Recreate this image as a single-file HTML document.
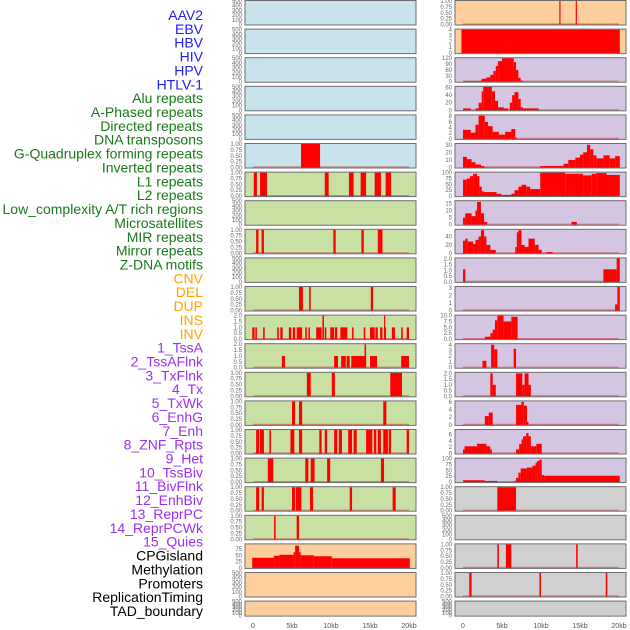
<!DOCTYPE html>
<html><head><meta charset="utf-8">
<style>
body{margin:0;background:#fff;width:630px;height:630px;overflow:hidden;font-family:"Liberation Sans",sans-serif;}
svg{display:block}
</style></head>
<body>
<svg id="chart" width="630" height="630" xmlns="http://www.w3.org/2000/svg"></svg>
<script>
const labels=["AAV2","EBV","HBV","HIV","HPV","HTLV-1","Alu repeats","A-Phased repeats","Directed repeats","DNA transposons","G-Quadruplex forming repeats","Inverted repeats","L1 repeats","L2 repeats","Low_complexity A/T rich regions","Microsatellites","MIR repeats","Mirror repeats","Z-DNA motifs","CNV","DEL","DUP","INS","INV","1_TssA","2_TssAFlnk","3_TxFlnk","4_Tx","5_TxWk","6_EnhG","7_Enh","8_ZNF_Rpts","9_Het","10_TssBiv","11_BivFlnk","12_EnhBiv","13_ReprPC","14_ReprPCWk","15_Quies","CPGisland","Methylation","Promoters","ReplicationTiming","TAD_boundary"];
const labelColors=["#2020f0","#1a7a1a","#ffa500","#9b30f0","#000"];
const labelGroups=[6,13,5,15,5];
const xTicks=[0,5,10,15,20];
const xTickLabels=["0","5kb","10kb","15kb","20kb"];
const T500=[0,100,200,300,400,500];
const T1=[0,0.25,0.5,0.75,1];
const T2=[0,0.5,1,1.5,2];
const leftBg=["b","b","b","b","b","b","g","g","g","g","g","g","g","g","g","g","g","g","g","o","o","o"];
const leftYmax=[500,500,500,500,500,1,1,500,1,500,1,2,2,1,1,1,1,1,1,93,500,500];
const leftTicks=[T500,T500,T500,T500,T500,T1,T1,T500,T1,T500,T1,T2,T2,T1,T1,T1,T1,T1,T1,[0,25,50,75],T500,T500];
const leftSegs=[[],[],[],[],[],
[[6.15,8.6,1]],
[[0.1,0.5,1],[0.9,1.8,1],[9.2,9.7,1],[12.3,12.9,1],[13.8,14.5,1],[15.6,16.4,1],[17.0,17.7,1]],
[],
[[0.4,0.7,1],[1.1,1.4,1],[10.3,10.6,1],[13.9,14.2,1],[16.0,16.6,1]],
[],
[[5.9,6.4,1],[7.2,7.4,1],[15.1,15.4,1]],
[[-0.1,0.2,1],[0.3,0.5,1],[1.3,1.5,1],[3.1,3.3,1],[3.5,3.8,1],[4.6,4.9,1],[5.1,5.4,1],[5.6,6.3,1],[6.7,6.9,1],[7.1,7.3,1],[8.1,8.8,1],[8.9,9.1,2],[9.2,9.4,1],[9.9,10.4,1],[10.5,10.8,1],[11.2,12.1,1],[12.7,12.9,1],[14.2,14.4,1],[15.0,15.6,1],[15.7,16.0,1],[16.3,16.6,1],[16.8,16.9,2],[16.9,17.0,1],[17.8,18.2,1],[19.0,19.2,1],[19.7,20.0,1]],
[[3.7,4.1,1],[10.4,10.9,1],[11.3,11.9,1],[12.0,12.4,1],[12.6,14.1,1],[14.1,14.5,1],[14.3,14.5,2],[15.0,15.9,1],[19.0,20.0,1]],
[[6.9,7.4,1],[10.1,10.5,1],[17.6,19.1,1]],
[[5.0,5.4,1],[5.9,6.3,1],[16.7,17.1,1]],
[[0.4,0.8,1],[0.9,1.4,1],[2.1,2.3,1],[4.8,5.3,1],[5.9,6.3,1],[8.5,8.8,1],[9.2,9.5,1],[10.4,10.8,1],[11.0,11.4,1],[12.2,12.7,1],[12.9,13.3,1],[14.5,15.3,1],[15.5,15.8,1],[16.0,16.4,1],[16.7,17.3,1],[17.4,17.7,1],[19.7,20.0,1]],
[[1.9,2.6,1],[6.7,7.1,1],[7.4,7.9,1],[9.5,9.9,1],[16.4,16.8,1]],
[[0.4,0.8,1],[1.1,1.4,1],[5.0,5.4,1],[5.5,6.2,1],[7.3,7.7,1],[12.4,12.7,1],[17.9,18.3,1]],
[[2.7,2.9,1],[5.6,5.9,1]],
[[-0.1,2.7,40],[2.7,3.4,48],[3.4,5.2,52],[5.2,5.4,62],[5.4,5.9,88],[5.9,6.1,62],[6.1,7.8,50],[7.8,10.1,46],[10.1,20.1,38]],
[],[]];
const rightBg=["o","o","p","p","p","p","p","p","p","p","p","p","p","p","p","p","p","y","y","y","y","y"];
const rightYmax=[1,4,120,62,8.3,31,100,16.5,56,2.05,3.1,10,4.1,2.05,6.1,7.5,100,1,500,1,1,500];
const rightTicks=[T1,[0,1,2,3,4],[0,30,60,90,120],[0,20,40,60],[0,2,4,6,8],[0,10,20,30],[0,25,50,75,100],[0,5,10,15],[0,20,40],T2,[0,1,2,3],[0,2.5,5,7.5,10],[0,1,2,3,4],T2,[0,2,4,6],[0,2,4,6],[0,25,50,75,100],T1,T500,T1,T1,T500];
const rightSegs=[
[[12.35,12.5,1],[14.45,14.6,1]],
[[-0.2,20.1,4]],
[[0,2.0,3],[2.1,2.4,5],[2.4,3.0,15],[3.0,3.5,22],[3.5,3.9,35],[3.9,4.2,55],[4.2,4.5,80],[4.5,5.0,105],[5.0,6.5,120],[6.5,6.8,100],[6.8,7.1,60],[7.1,7.4,20],[7.4,7.7,5]],
[[0,1.0,5],[1.6,2.0,5],[2.0,2.4,20],[2.4,2.6,50],[2.6,3.7,62],[3.7,4.1,50],[4.1,4.5,25],[4.5,5.2,8],[5.2,5.8,5],[6.0,6.3,20],[6.3,6.6,40],[6.6,7.1,48],[7.1,7.4,30],[7.4,7.7,8],[7.7,9.7,5]],
[[0,1.0,3.2],[1.0,1.6,2.2],[1.6,2.0,5],[2.0,2.8,8.2],[2.8,3.2,6],[3.2,3.8,4.5],[3.8,4.6,2.5],[4.6,5.4,1.5],[5.4,6.2,2.5],[6.2,6.7,3.5],[6.7,6.9,0.5]],
[[0,0.5,14],[0.5,1.1,11],[1.1,1.6,7],[1.6,2.3,4],[2.3,2.7,2],[9.9,12.9,2],[12.9,13.5,5],[13.5,14.4,10],[14.4,15.0,13],[15.0,15.4,17],[15.4,15.9,20],[15.9,16.3,30],[16.3,16.7,24],[16.7,17.1,16],[17.1,18.0,12],[18.0,18.8,16],[18.8,19.5,12],[19.5,20.1,15]],
[[0,0.5,70],[0.5,0.9,75],[0.9,1.3,85],[1.3,1.8,95],[1.8,2.1,85],[2.1,2.4,40],[2.4,2.7,20],[2.7,4.3,17],[4.3,4.9,10],[4.9,6.2,5],[6.2,6.6,10],[6.6,7.1,25],[7.1,7.5,40],[7.5,8.1,48],[8.1,8.6,40],[8.6,9.9,30],[9.9,13.1,100],[13.1,15.4,95],[15.4,16.5,88],[16.5,17.1,95],[17.1,18.4,98],[18.4,20.1,90]],
[[0,0.3,5],[0.3,1.1,8],[1.1,1.6,6],[1.6,1.8,10],[1.8,2.3,16],[2.3,2.7,8],[2.7,3.1,2],[13.9,14.6,2]],
[[0,0.3,30],[0.3,0.6,35],[0.6,1.3,28],[1.3,1.6,22],[1.6,2.0,32],[2.0,2.3,40],[2.3,2.7,55],[2.7,3.0,40],[3.0,3.5,20],[3.5,4.2,8],[6.7,6.9,15],[6.9,7.1,50],[7.1,7.5,55],[7.5,7.9,20],[7.9,8.4,15],[8.4,9.2,35],[9.2,9.7,20],[9.7,10.1,8],[10.7,11.5,3]],
[[0,0.3,1.1],[18.0,19.7,1.1],[19.7,20.1,2.05]],
[[19.5,19.8,0.8],[19.8,20.1,3.1]],
[[2.8,3.5,1],[3.5,3.8,2.5],[3.8,4.1,4],[4.1,4.4,8],[4.4,5.2,10],[5.2,6.2,7.5],[6.2,7.0,9.5]],
[[2.5,3.0,1.2],[3.6,4.0,4],[4.0,4.4,3.2],[6.5,6.8,3.3]],
[[3.5,3.8,2],[3.8,4.2,1],[6.8,7.6,2],[7.6,7.9,1],[7.9,8.4,2],[8.4,8.7,1]],
[[2.8,3.3,2.3],[3.3,3.8,3.2],[6.8,7.5,5.2],[7.5,7.8,6],[7.8,8.2,5],[8.2,8.4,0.8]],
[[0,0.2,1.3],[0.2,1.8,2.3],[1.8,3.0,3.1],[3.0,3.5,2.3],[3.5,3.7,1.3],[6.8,7.2,1.3],[7.2,7.5,3],[7.5,7.7,4.5],[7.7,8.1,5.5],[8.1,8.4,6.5],[8.4,8.7,5.5],[8.7,9.4,2.3],[9.4,10.1,3.1]],
[[0,2.8,8],[2.8,4.4,5],[6.6,6.8,5],[6.8,7.1,18],[7.1,7.4,40],[7.4,8.2,58],[8.2,8.9,62],[8.9,9.3,70],[9.3,9.5,82],[9.5,9.8,90],[9.8,10.1,95],[10.1,10.4,30],[10.4,20.1,27]],
[[4.4,6.8,1]],
[],
[[4.4,4.6,1],[5.5,6.2,1],[14.5,14.7,1]],
[[0.8,1.1,1],[9.8,10.0,1],[18.3,18.5,1]],
[]];
const bgCol={b:"#c8e3ec",g:"#c8e0a4",o:"#fecf9d",p:"#d4c5e2",y:"#d0d0d0"};
const NS="http://www.w3.org/2000/svg";
const svg=document.getElementById("chart");
function mk(t,a,p){const e=document.createElementNS(NS,t);for(const k in a)e.setAttribute(k,a[k]);(p||svg).appendChild(e);return e;}
const rowTop=i=>i*28.6+0.5;
const rowH=i=>i===21?15:24.5;
const xLeft=[253,463];
const xScale=(col,kb)=>xLeft[col]+kb*7.8;
function fmt(v,ticks){if(ticks===T1)return v.toFixed(2);if(ticks===T2||ticks===rightTicks[11])return v.toFixed(1);return String(v);}
let li=0;
labelGroups.forEach((n,g)=>{for(let k=0;k<n;k++){const t=mk("text",{x:203,y:20+li*13.86,"text-anchor":"end","font-size":14,fill:labelColors[g]});t.textContent=labels[li];


li++;}});
function panel(col,i,bg,ymax,ticks,segs){
  const px=col===0?245:455,pw=171,top=rowTop(i),h=rowH(i);
  const g=mk("g",{});
  
  
  mk("rect",{x:px,y:top,width:pw,height:h,fill:bgCol[bg]},g);
  const ys=v=>top+h-0.5-(v/ymax)*(h-1);
  if(ymax<=120 && segs.length)mk("line",{x1:xScale(col,0),x2:xScale(col,20),y1:top+h-1,y2:top+h-1,stroke:"rgba(200,40,40,0.5)","stroke-width":1.2},g);
  segs.forEach(s=>{const x0=xScale(col,s[0]),x1=xScale(col,s[1]);const y=ys(s[2]);
    const r=mk("rect",{x:x0,y:y,width:Math.max(1.2,x1-x0),height:top+h-0.5-y,fill:"#ff0000"},g);
    
    });
  mk("rect",{x:px,y:top,width:pw,height:h,fill:"none",stroke:"#6e6e6e","stroke-width":1},g);
  ticks.forEach(v=>{if(v>ymax*1.01)return;const t=mk("text",{x:px-3,y:ys(v)+2,"text-anchor":"end","font-size":6,fill:"#666"},g);t.textContent=fmt(v,ticks);});
}
for(let i=0;i<22;i++){panel(0,i,leftBg[i],leftYmax[i],leftTicks[i],leftSegs[i]);panel(1,i,rightBg[i],rightYmax[i],rightTicks[i],rightSegs[i]);}
[0,1].forEach(col=>{xTicks.forEach((v,k)=>{const t=mk("text",{x:xScale(col,v),y:628,"text-anchor":"middle","font-size":7,fill:"#555"});t.textContent=xTickLabels[k];

});});
</script>
</body></html>
